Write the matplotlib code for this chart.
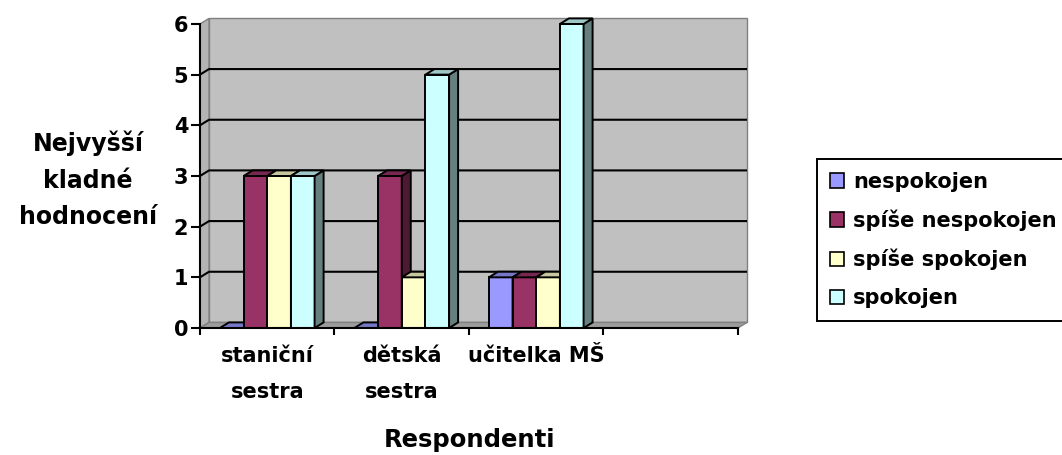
import matplotlib.pyplot as plt
from matplotlib.patches import Polygon, Rectangle, Patch

plt.rcParams['font.family'] = ['DejaVu Sans']
plt.rcParams['font.weight'] = 'bold'

# data
categories = ["staniční\nsestra", "dětská\nsestra", "učitelka MŠ"]
n_slots = 4  # ctvrta kategorie je prazdna
series = ["nespokojen", "spíše nespokojen", "spíše spokojen", "spokojen"]
nespokojen = [0, 0, 1]
spise_nespokojen = [3, 3, 1]
spise_spokojen = [3, 1, 1]
spokojen = [3, 5, 6]
values = [nespokojen, spise_nespokojen, spise_spokojen, spokojen]
colors = ["#9999FF", "#993366", "#FFFFCC", "#CCFFFF"]
y_max = 6

# hloubka 3D efektu v datovych jednotkach
dx = 0.067
dy = 0.11
bar_w = 0.176


def shade(c, f):
    r, g, b = [int(c[i:i + 2], 16) / 255 for i in (1, 3, 5)]
    return (r * f, g * f, b * f)


def bar3d(ax, x, h, color, z):
	# predni stena, bocni stena, vrch
	kw = dict(edgecolor='black', linewidth=1.4, joinstyle='miter', zorder=z)
	if h > 0:
		ax.add_patch(Rectangle((x, 0), bar_w, h, facecolor=color, **kw))
	ax.add_patch(Polygon([(x + bar_w, 0), (x + bar_w + dx, dy), (x + bar_w + dx, h + dy), (x + bar_w, h)],
					  facecolor=shade(color, 0.5), **kw))
	ax.add_patch(Polygon([(x, h), (x + dx, h + dy), (x + bar_w + dx, h + dy), (x + bar_w, h)],
					  facecolor=shade(color, 0.78), **kw))


fig = plt.figure(figsize=(10.62, 4.55), dpi=100)
ax = fig.add_axes([0.17566, 0.24571, 0.53823, 0.74615])
ax.set_xlim(-0.1, 4.15)
ax.set_ylim(-0.3, 6.4)

# steny a podlaha
wall_kw = dict(edgecolor='#808080', linewidth=1.0, zorder=1)
ax.add_patch(Rectangle((dx, dy), n_slots, y_max, facecolor='#C0C0C0', **wall_kw))
ax.add_patch(Polygon([(0, 0), (dx, dy), (dx, y_max + dy), (0, y_max)], facecolor='#B4B4B4', **wall_kw))
ax.add_patch(Polygon([(0, 0), (n_slots, 0), (n_slots + dx, dy), (dx, dy)], facecolor='#9C9C9C', **wall_kw))

# mrizka
for v in range(1, y_max):
	ax.plot([0, dx, n_slots + dx], [v, v + dy, v + dy], color='black', lw=1.5, zorder=2, solid_capstyle='butt')

# sloupce
for i in range(len(categories)):
	for j, vals in enumerate(values):
		x = i + 0.5 - 2 * bar_w + j * bar_w
		bar3d(ax, x, vals[i], colors[j], 3 + j)

# osy
for s in ('top', 'right'):
	ax.spines[s].set_visible(False)
ax.spines['left'].set_position(('data', 0))
ax.spines['left'].set_bounds(0, y_max)
ax.spines['bottom'].set_position(('data', 0))
ax.spines['bottom'].set_bounds(0, n_slots)
for s in ('left', 'bottom'):
	ax.spines[s].set_linewidth(1.5)
	ax.spines[s].set_zorder(10)

ax.set_yticks(range(y_max + 1))
ax.tick_params(axis='y', direction='out', length=6.5, width=1.5, pad=2, labelsize=15)
ax.set_xticks(range(n_slots + 1))
ax.set_xticklabels([])
ax.tick_params(axis='x', which='major', direction='out', length=5, width=1.5)
ax.set_xticks([i + 0.5 for i in range(len(categories))], minor=True)
ax.set_xticklabels(categories, minor=True, fontsize=15, linespacing=2.0)
ax.tick_params(axis='x', which='minor', length=0, pad=13)

fig.text(88 / 1062, 1 - 180 / 455, "Nejvyšší\nkladné\nhodnocení", ha='center', va='center',
		 fontsize=17, linespacing=1.65)
fig.text(470 / 1062, 1 - 440 / 455, "Respondenti", ha='center', va='center', fontsize=17.5)

handles = [Patch(facecolor=c, edgecolor='black', linewidth=1.2) for c in colors]
leg = fig.legend(handles, series, loc='upper left', bbox_to_anchor=(817 / 1062, 1 - 159 / 455),
				 borderaxespad=0, fancybox=False, framealpha=1, edgecolor='black', fontsize=15,
				 handlelength=0.7, handleheight=0.7, handletextpad=0.43, labelspacing=0.86, borderpad=0.6)
leg.get_frame().set_linewidth(1.4)

fig.savefig("out.png", dpi=100)
